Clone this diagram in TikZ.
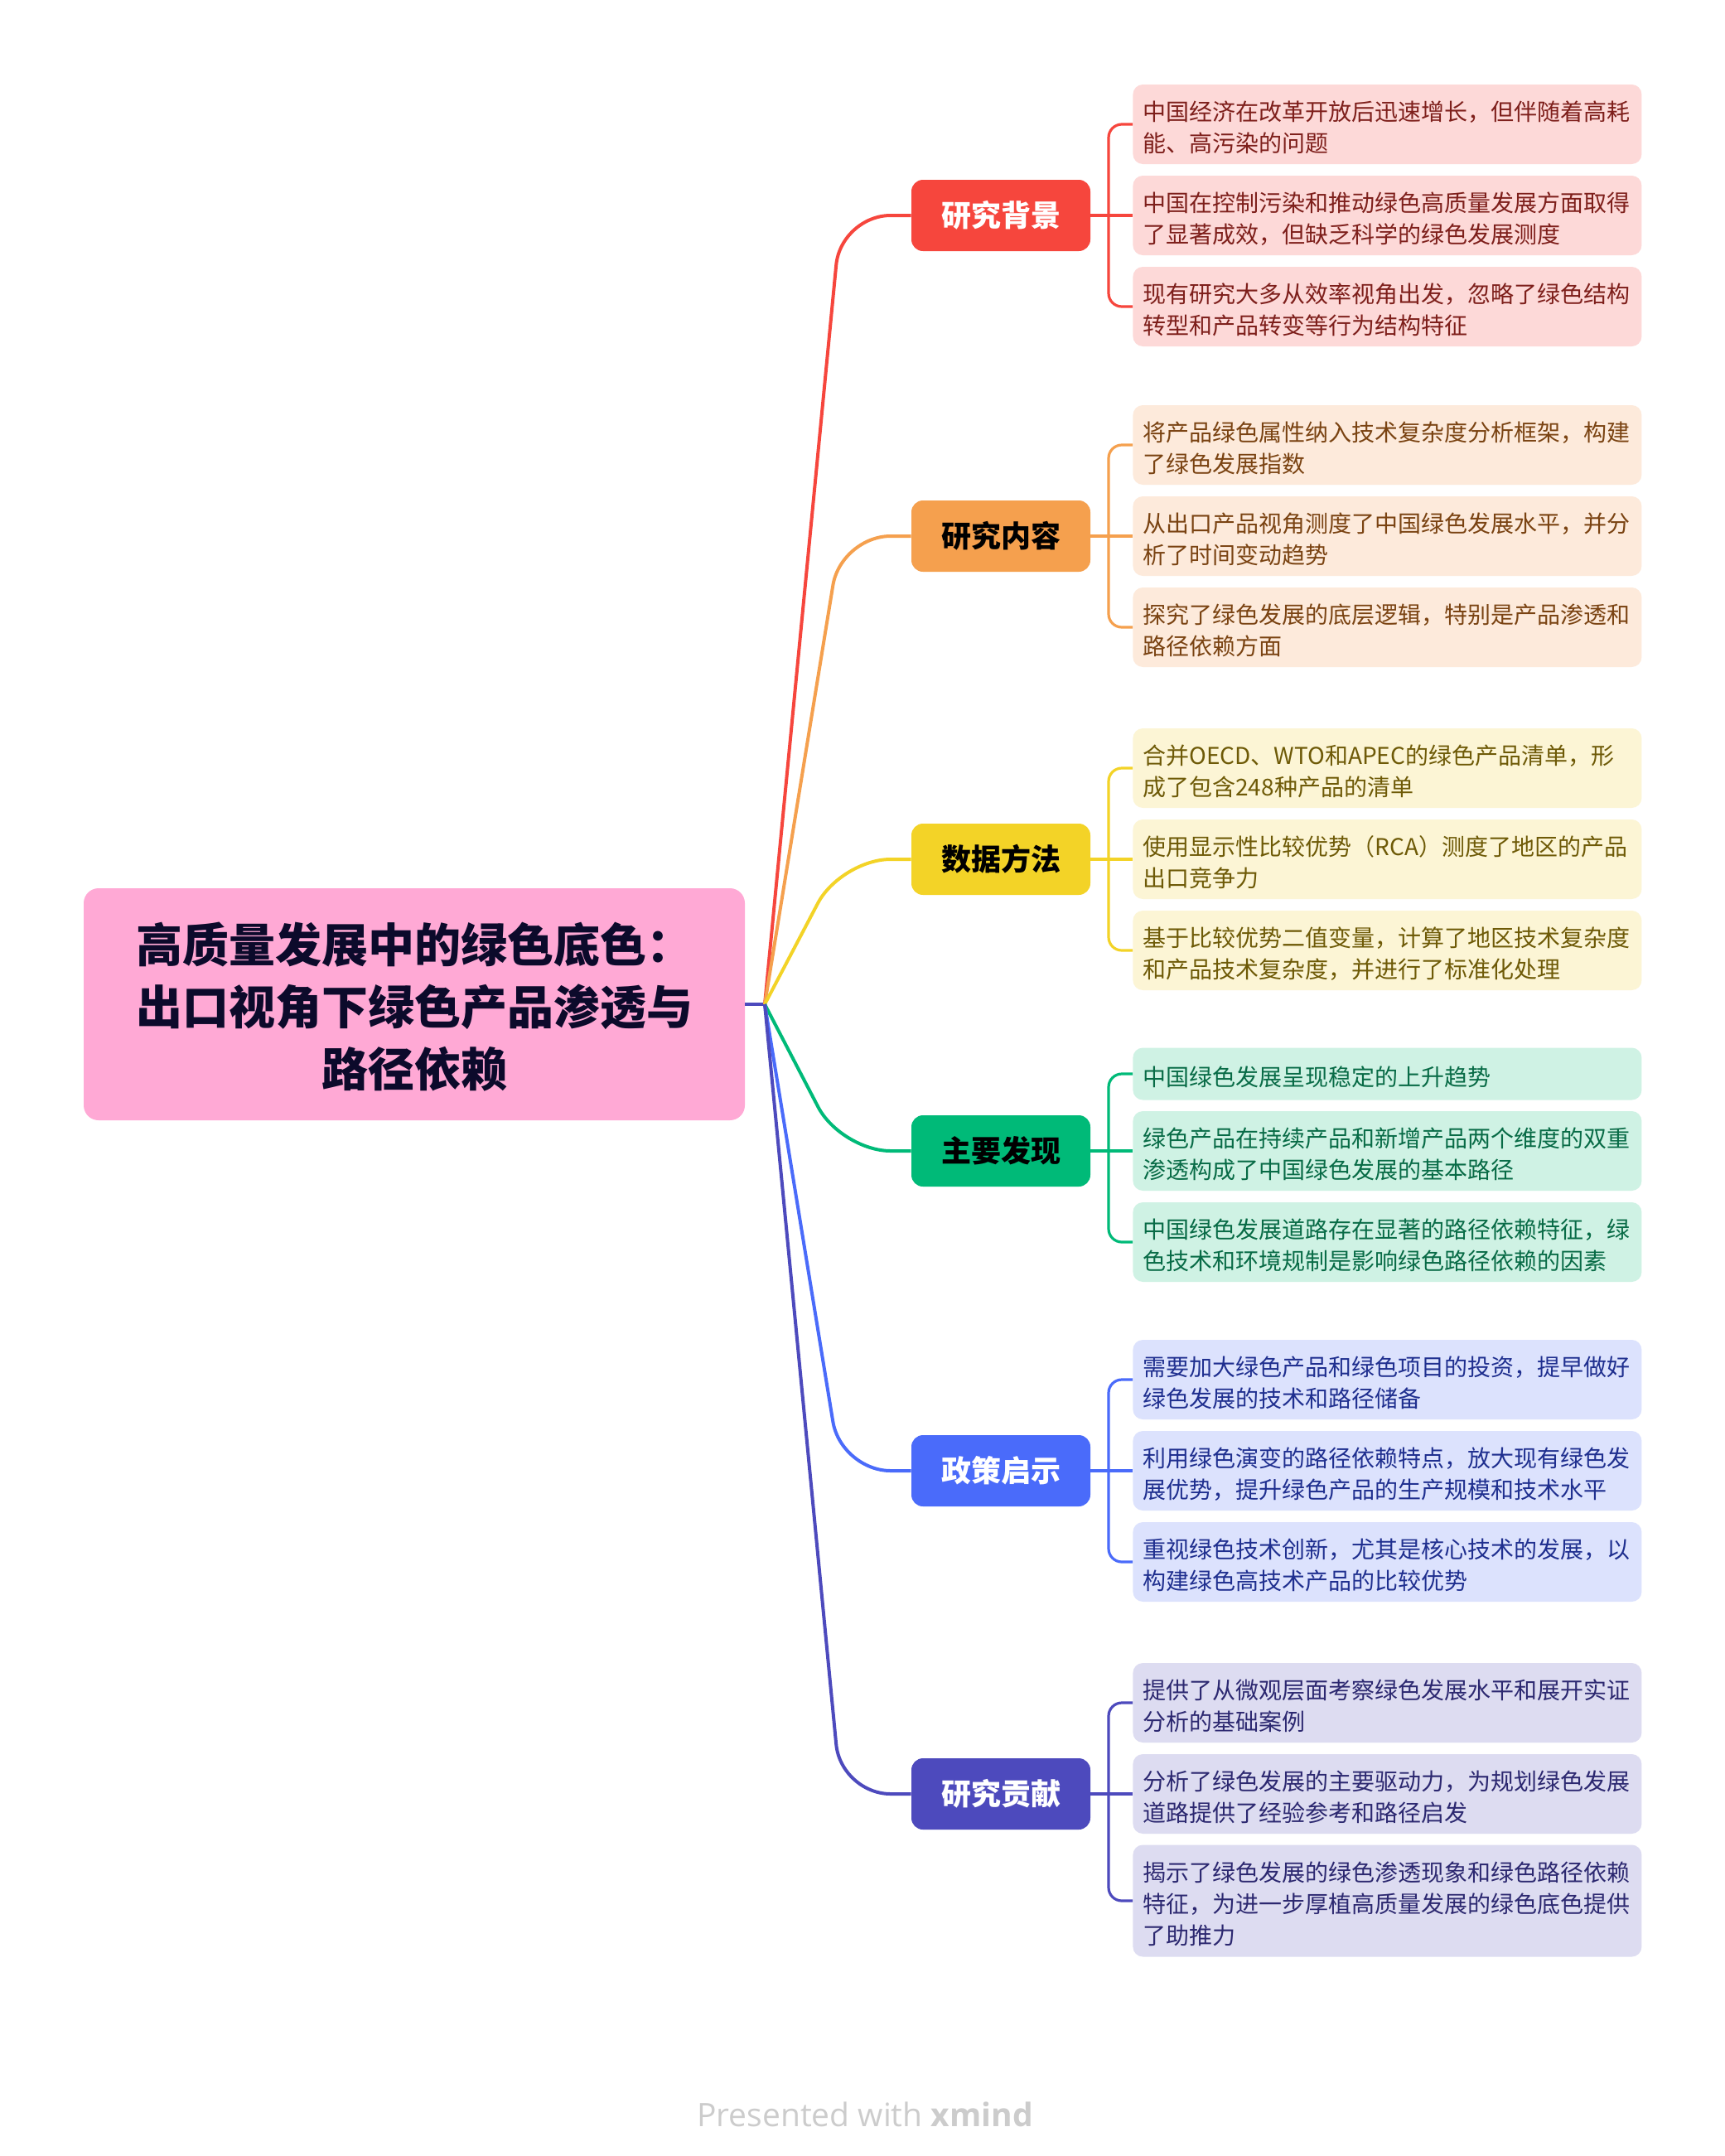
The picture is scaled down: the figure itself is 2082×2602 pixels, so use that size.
\documentclass[tikz,border=0pt]{standalone}
\usepackage{fontspec}
\newfontfamily\cjk{Noto Sans CJK SC}[BoldFont={Noto Sans CJK SC Bold}]
\newfontfamily\cjkheavy{Noto Sans CJK SC Black}
\newfontfamily\footfont{Open Sans}
\usetikzlibrary{calc}
\definecolor{cA}{HTML}{F6463D}\definecolor{fA}{HTML}{FDD9D8}\definecolor{tA}{HTML}{7E1F1B}
\definecolor{cB}{HTML}{F5A04E}\definecolor{fB}{HTML}{FDEADB}\definecolor{tB}{HTML}{7A4312}
\definecolor{cC}{HTML}{F3D327}\definecolor{fC}{HTML}{FCF5D5}\definecolor{tC}{HTML}{6E5A07}
\definecolor{cD}{HTML}{00BA78}\definecolor{fD}{HTML}{CFF2E4}\definecolor{tD}{HTML}{086B46}
\definecolor{cE}{HTML}{4A6BFA}\definecolor{fE}{HTML}{DCE2FD}\definecolor{tE}{HTML}{1F2F8F}
\definecolor{cF}{HTML}{4D4ABD}\definecolor{fF}{HTML}{DDDCF1}\definecolor{tF}{HTML}{2C2870}
\definecolor{rootfill}{HTML}{FFA9D5}\definecolor{roottext}{HTML}{0C0A2B}
\definecolor{footgray}{HTML}{CCCCCC}
\tikzset{
  rootbox/.style={rectangle, rounded corners=9pt, fill=rootfill, minimum width=399pt, minimum height=140pt,
    align=center, text=roottext, font=\cjkheavy\fontsize{28pt}{37.5pt}\selectfont},
  branchbox/.style={rectangle, rounded corners=7pt, minimum width=108pt, minimum height=43pt, inner sep=0pt,
    font=\cjkheavy\fontsize{18pt}{22pt}\selectfont},
  leafbox/.style={rectangle, rounded corners=6pt, text width=295pt, inner xsep=6pt, inner ysep=0pt,
    align=left, anchor=west, font=\cjk\fontsize{14pt}{19pt}\selectfont},
  leafone/.style={leafbox, minimum height=31.5pt},
  leaftwo/.style={leafbox, minimum height=48pt},
  leafthree/.style={leafbox, minimum height=67.5pt},
  mainlink/.style={line width=2pt, rounded corners=30pt},
  sublink/.style={line width=1.6pt, rounded corners=8pt},
}
\newcommand{\lift}{\rule{0pt}{15.5pt}}
\begin{document}
\begin{tikzpicture}[x=0.5pt, y=-0.5pt]
\useasboundingbox[fill=white] (0,0) rectangle (2082,2602);

% root
\node[rootbox] (root) at (500,1212) {\rule{0pt}{27.5pt}高质量发展中的绿色底色：\\出口视角下绿色产品渗透与\\路径依赖};
\coordinate (J) at (923,1212);

% branches
\node[branchbox, fill=cA, text=white] (b1) at (1208,260) {研究背景};
\node[branchbox, fill=cB, text=black] (b2) at (1208,647) {研究内容};
\node[branchbox, fill=cC, text=black] (b3) at (1208,1037) {数据方法};
\node[branchbox, fill=cD, text=black] (b4) at (1208,1389) {主要发现};
\node[branchbox, fill=cE, text=white] (b5) at (1208,1775) {政策启示};
\node[branchbox, fill=cF, text=white] (b6) at (1208,2165) {研究贡献};

% leaves
\node[leaftwo, fill=fA, text=tA] (l11) at (1367,150) {\lift 中国经济在改革开放后迅速增长，但伴随着高耗\\能、高污染的问题};
\node[leaftwo, fill=fA, text=tA] (l12) at (1367,260) {\lift 中国在控制污染和推动绿色高质量发展方面取得\\了显著成效，但缺乏科学的绿色发展测度};
\node[leaftwo, fill=fA, text=tA] (l13) at (1367,370) {\lift 现有研究大多从效率视角出发，忽略了绿色结构\\转型和产品转变等行为结构特征};

\node[leaftwo, fill=fB, text=tB] (l21) at (1367,537) {\lift 将产品绿色属性纳入技术复杂度分析框架，构建\\了绿色发展指数};
\node[leaftwo, fill=fB, text=tB] (l22) at (1367,647) {\lift 从出口产品视角测度了中国绿色发展水平，并分\\析了时间变动趋势};
\node[leaftwo, fill=fB, text=tB] (l23) at (1367,757) {\lift 探究了绿色发展的底层逻辑，特别是产品渗透和\\路径依赖方面};

\node[leaftwo, fill=fC, text=tC] (l31) at (1367,927) {\lift 合并OECD、WTO和APEC的绿色产品清单，形\\成了包含248种产品的清单};
\node[leaftwo, fill=fC, text=tC] (l32) at (1367,1037) {\lift 使用显示性比较优势（RCA）测度了地区的产品\\出口竞争力};
\node[leaftwo, fill=fC, text=tC] (l33) at (1367,1147) {\lift 基于比较优势二值变量，计算了地区技术复杂度\\和产品技术复杂度，并进行了标准化处理};

\node[leafone, fill=fD, text=tD] (l41) at (1367,1296) {\lift 中国绿色发展呈现稳定的上升趋势};
\node[leaftwo, fill=fD, text=tD] (l42) at (1367,1389) {\lift 绿色产品在持续产品和新增产品两个维度的双重\\渗透构成了中国绿色发展的基本路径};
\node[leaftwo, fill=fD, text=tD] (l43) at (1367,1499) {\lift 中国绿色发展道路存在显著的路径依赖特征，绿\\色技术和环境规制是影响绿色路径依赖的因素};

\node[leaftwo, fill=fE, text=tE] (l51) at (1367,1665) {\lift 需要加大绿色产品和绿色项目的投资，提早做好\\绿色发展的技术和路径储备};
\node[leaftwo, fill=fE, text=tE] (l52) at (1367,1775) {\lift 利用绿色演变的路径依赖特点，放大现有绿色发\\展优势，提升绿色产品的生产规模和技术水平};
\node[leaftwo, fill=fE, text=tE] (l53) at (1367,1885) {\lift 重视绿色技术创新，尤其是核心技术的发展，以\\构建绿色高技术产品的比较优势};

\node[leaftwo, fill=fF, text=tF] (l61) at (1367,2055) {\lift 提供了从微观层面考察绿色发展水平和展开实证\\分析的基础案例};
\node[leaftwo, fill=fF, text=tF] (l62) at (1367,2165) {\lift 分析了绿色发展的主要驱动力，为规划绿色发展\\道路提供了经验参考和路径启发};
\node[leafthree, fill=fF, text=tF] (l63) at (1367,2294) {\lift 揭示了绿色发展的绿色渗透现象和绿色路径依赖\\特征，为进一步厚植高质量发展的绿色底色提供\\了助推力};

% root to branch connectors
\draw[mainlink, cF, rounded corners=0pt] (root.east) -- (J);
\draw[mainlink, cA] (J) -- (1015,260) -- (b1.west);
\draw[mainlink, cB] (J) -- (1015,647) -- (b2.west);
\draw[mainlink, cC] (J) -- (1015,1037) -- (b3.west);
\draw[mainlink, cD] (J) -- (1015,1389) -- (b4.west);
\draw[mainlink, cE] (J) -- (1015,1775) -- (b5.west);
\draw[mainlink, cF] (J) -- (1015,2165) -- (b6.west);

% branch to leaf connectors
\foreach \b/\c/\y in {1/cA/260, 2/cB/647, 3/cC/1037, 4/cD/1389, 5/cE/1775, 6/cF/2165}{
  \coordinate (k\b) at (1338,\y);
  \draw[sublink, \c, rounded corners=0pt] (b\b.east) -- (l\b2.west);
  \draw[sublink, \c] (k\b) |- (l\b1.west);
  \draw[sublink, \c] (k\b) |- (l\b3.west);
}

% footer
\node[text=footgray, font=\footfont\fontsize{19.5pt}{22pt}\selectfont] (footer) at (1044,2552) {Presented with \textbf{xmind}};
\end{tikzpicture}
\end{document}
